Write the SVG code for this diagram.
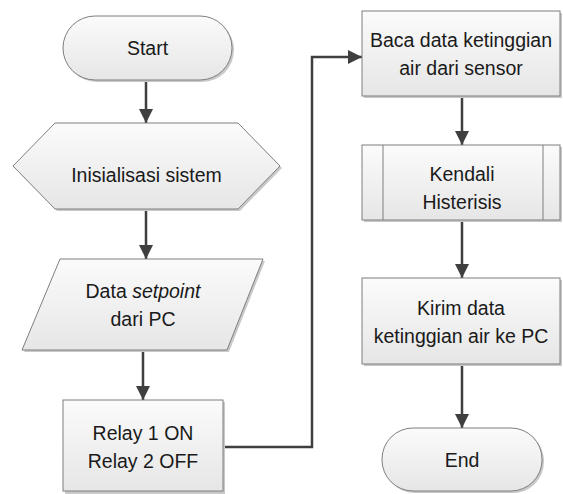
<svg xmlns="http://www.w3.org/2000/svg" width="563" height="494" viewBox="0 0 563 494">
<defs>
<linearGradient id="g" x1="0" y1="0" x2="0" y2="1">
<stop offset="0" stop-color="#fbfbfb"/>
<stop offset="1" stop-color="#e6e6e6"/>
</linearGradient>
<marker id="ah" markerUnits="userSpaceOnUse" markerWidth="14" markerHeight="14" viewBox="0 0 14 14" refX="14" refY="7" orient="auto">
<path d="M0,0 L14,7 L0,14 Z" fill="#3f3f3f"/>
</marker>
</defs>
<style>
.s{fill:url(#g);stroke:#7f7f7f;stroke-width:1}
.sh{fill:#c9c9c9;stroke:none}
.t{font-family:"Liberation Sans",Arial,sans-serif;font-size:19.5px;fill:#1a1a1a;text-anchor:middle}
.c{fill:none;stroke:#3f3f3f;stroke-width:2.5;marker-end:url(#ah)}
</style>
<rect width="563" height="494" fill="#ffffff"/>
<g id="connectors">
<line class="c" x1="146" y1="80" x2="146" y2="123"/>
<line class="c" x1="146" y1="209" x2="146" y2="259"/>
<line class="c" x1="143" y1="350" x2="143" y2="400"/>
<polyline class="c" points="223,447 312,447 312,57 362,57"/>
<line class="c" x1="462" y1="96" x2="462" y2="145"/>
<line class="c" x1="462" y1="220" x2="462" y2="278"/>
<line class="c" x1="462" y1="364" x2="462" y2="428"/>
</g>
<g id="start">
<rect class="sh" x="65" y="18" width="169" height="64" rx="32"/>
<rect class="s" x="63" y="16" width="169" height="64" rx="32"/>
<text class="t" x="147.5" y="55">Start</text>
</g>
<g id="init">
<polygon class="sh" points="15,168 57,125 240,125 282,168 240,211 57,211"/>
<polygon class="s" points="13,166 55,123 238,123 280,166 238,209 55,209"/>
<text class="t" x="146.5" y="182">Inisialisasi sistem</text>
</g>
<g id="setpoint">
<polygon class="sh" points="62,261 265,261 229,352 24,352"/>
<polygon class="s" points="60,259 263,259 227,350 22,350"/>
<text class="t" x="143" y="298">Data <tspan font-style="italic">setpoint</tspan></text>
<text class="t" x="143" y="326">dari PC</text>
</g>
<g id="relay">
<rect class="sh" x="65" y="402" width="160" height="92"/>
<rect class="s" x="63" y="400" width="160" height="91"/>
<text class="t" x="143" y="440">Relay 1 ON</text>
<text class="t" x="143" y="468">Relay 2 OFF</text>
</g>
<g id="baca">
<rect class="sh" x="364" y="13" width="198" height="85"/>
<rect class="s" x="362" y="11" width="198" height="85"/>
<text class="t" x="461" y="47">Baca data ketinggian</text>
<text class="t" x="461" y="75">air dari sensor</text>
</g>
<g id="kendali">
<rect class="sh" x="364" y="147" width="198" height="75"/>
<rect class="s" x="362" y="145" width="198" height="75"/>
<line x1="383" y1="145" x2="383" y2="220" stroke="#7f7f7f" stroke-width="1"/>
<line x1="543" y1="145" x2="543" y2="220" stroke="#7f7f7f" stroke-width="1"/>
<text class="t" x="462" y="181">Kendali</text>
<text class="t" x="462" y="209">Histerisis</text>
</g>
<g id="kirim">
<rect class="sh" x="364" y="280" width="198" height="86"/>
<rect class="s" x="362" y="278" width="198" height="86"/>
<text class="t" x="461" y="315">Kirim data</text>
<text class="t" x="461" y="343">ketinggian air ke PC</text>
</g>
<g id="end">
<rect class="sh" x="384" y="430" width="160" height="63" rx="31"/>
<rect class="s" x="382" y="428" width="160" height="63" rx="31"/>
<text class="t" x="462" y="467">End</text>
</g>
</svg>
